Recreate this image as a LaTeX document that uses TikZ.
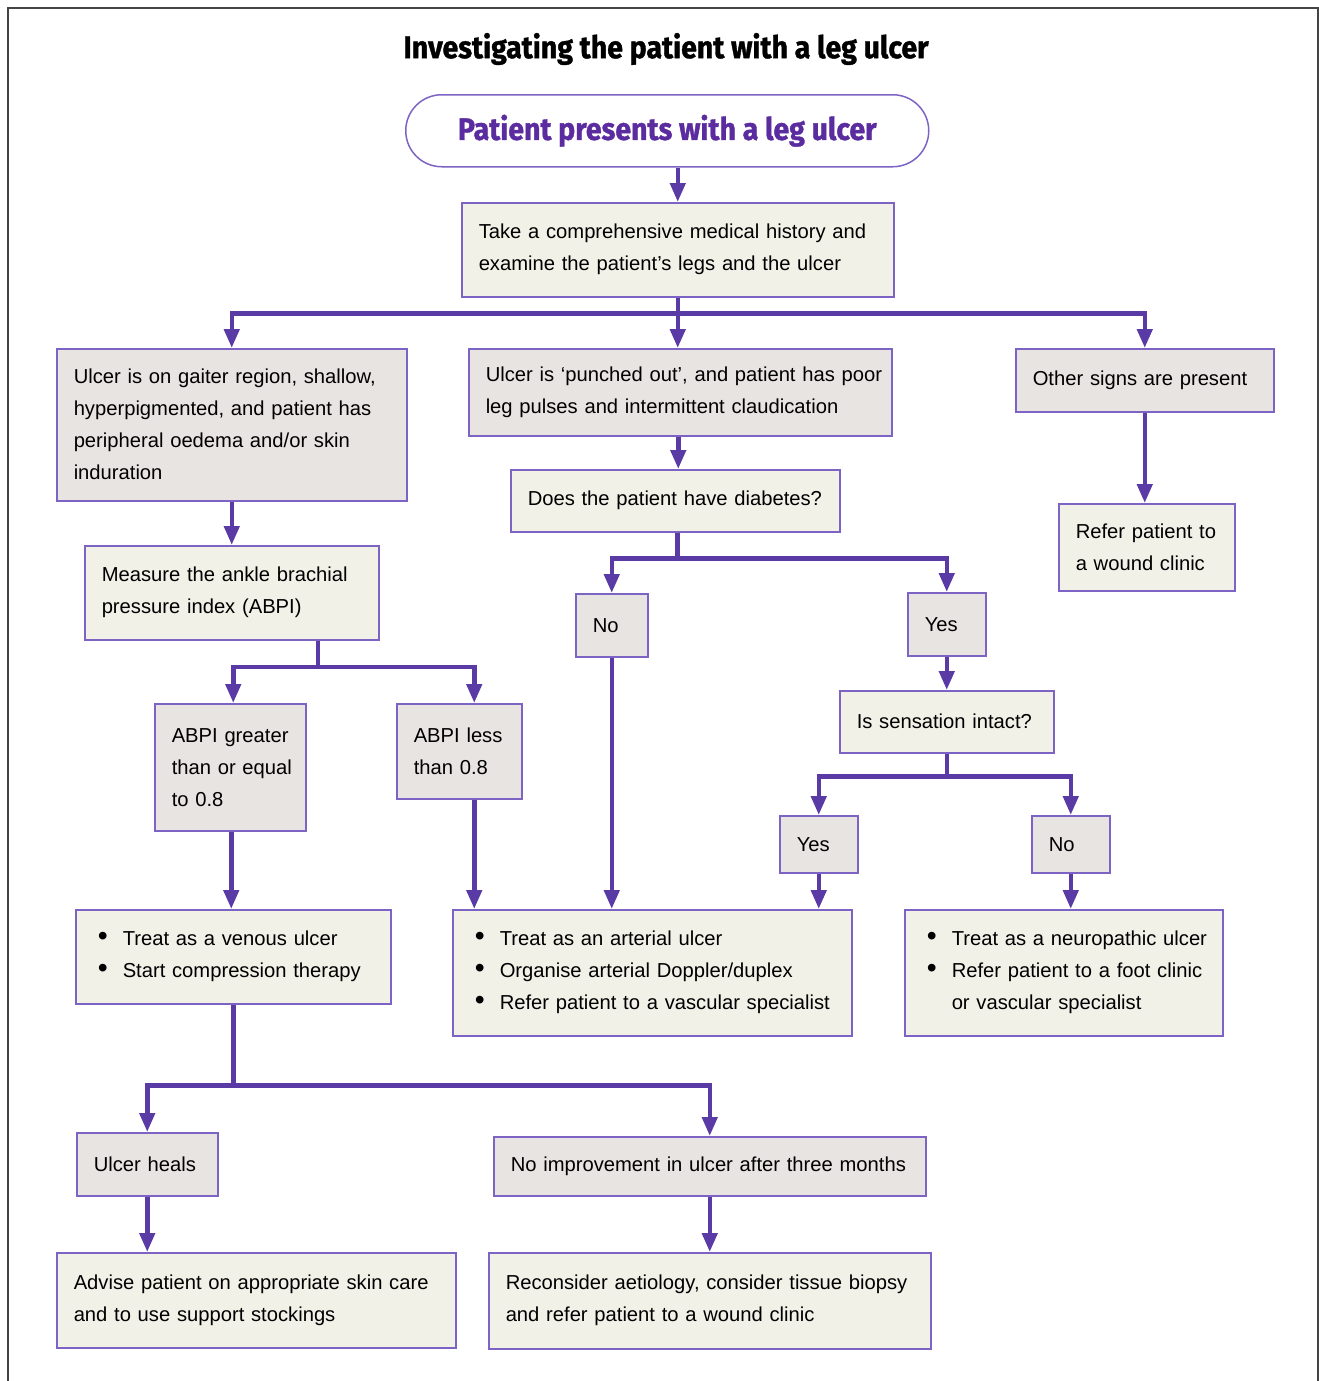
\documentclass[tikz,border=0pt]{standalone}
\usepackage{fontspec}
\usetikzlibrary{arrows.meta}
\newfontfamily\bodyfont{Liberation Sans}
\newfontfamily\titlefont[FakeStretch=0.92,FakeBold=1.2]{Fira Sans}
\definecolor{cream}{HTML}{F2F1E8}
\definecolor{greyfill}{HTML}{E8E4E1}
\definecolor{bordercol}{HTML}{7D63C3}
\definecolor{arrowcol}{HTML}{5A3BA6}
\definecolor{starttext}{HTML}{5B2C9F}
\definecolor{framecol}{HTML}{444444}
\newcommand\LL[1]{\mbox{#1}}
\newcommand\BL[1]{\mbox{\makebox[25pt][l]{\scalebox{1.4}{\textbullet}}#1}}
\begin{document}
\begin{tikzpicture}[x=1pt,y=-1pt,
  box/.style={draw=bordercol, line width=1.5pt, anchor=north west, inner xsep=17pt, inner ysep=0pt,
     align=left, font=\bodyfont\fontsize{20.2}{32}\selectfont},
  cbox/.style={box, fill=cream},
  gbox/.style={box, fill=greyfill},
  bbox/.style={cbox, inner xsep=22pt},
  arr/.style={draw=arrowcol, line width=4.5pt, -{Triangle[length=19pt,width=15pt]}},
  ln/.style={draw=arrowcol, line width=4.5pt},
  ttl/.style={font=\titlefont\bfseries\fontsize{31}{36}\selectfont}
]
\useasboundingbox (0,0) rectangle (1319,1381);
\draw[framecol, line width=2pt] (8,1381) -- (8,8) -- (1318,8) -- (1318,1381);

\node[ttl, anchor=center] (title) at (666,49) {Investigating the patient with a leg ulcer};
\node[ttl, draw=bordercol, line width=1.5pt, rounded corners=36pt, anchor=north west, minimum width=523pt, minimum height=72pt, inner sep=0pt,
  text=starttext] (start) at (405,94) {Patient presents with a leg ulcer};

\node[cbox, minimum width=432pt, text width=398pt, minimum height=94pt] (take) at (461,202)
  {\LL{Take a comprehensive medical history and}\\\LL{examine the patient’s legs and the ulcer}};

\node[gbox, minimum width=350pt, text width=316pt, minimum height=152pt] (venoussign) at (56,348)
  {\LL{Ulcer is on gaiter region, shallow,}\\\LL{hyperpigmented, and patient has}\\\LL{peripheral oedema and/or skin}\\\LL{induration}};
\node[gbox, minimum width=423pt, text width=389pt, minimum height=87pt] (arterialsign) at (468,348)
  {\LL{Ulcer is ‘punched out’, and patient has poor}\\\LL{leg pulses and intermittent claudication}};
\node[gbox, minimum width=258pt, text width=224pt, minimum height=63pt] (other) at (1015,348)
  {\LL{Other signs are present}};
\node[cbox, minimum width=176pt, text width=142pt, minimum height=87pt] (refer) at (1058,503)
  {\LL{Refer patient to}\\\LL{a wound clinic}};

\node[cbox, minimum width=294pt, text width=260pt, minimum height=94pt] (measure) at (84,545)
  {\LL{Measure the ankle brachial}\\\LL{pressure index (ABPI)}};
\node[gbox, minimum width=151pt, text width=117pt, minimum height=127pt] (ge) at (154,703)
  {\LL{ABPI greater}\\\LL{than or equal}\\\LL{to 0.8}};
\node[gbox, minimum width=125pt, text width=91pt, minimum height=95pt] (lt) at (396,703)
  {\LL{ABPI less}\\\LL{than 0.8}};

\node[cbox, minimum width=329pt, text width=295pt, minimum height=62pt] (diab) at (510,469)
  {\LL{Does the patient have diabetes?}};
\node[gbox, minimum width=72pt, text width=38pt, minimum height=63pt] (no) at (575,593) {\LL{No}};
\node[gbox, minimum width=78pt, text width=44pt, minimum height=63pt] (yes) at (907,592) {\LL{Yes}};
\node[cbox, minimum width=214pt, text width=180pt, minimum height=62pt] (sens) at (839,690)
  {\LL{Is sensation intact?}};
\node[gbox, minimum width=78pt, text width=44pt, minimum height=57pt] (yestwo) at (779,815) {\LL{Yes}};
\node[gbox, minimum width=78pt, text width=44pt, minimum height=57pt] (notwo) at (1031,815) {\LL{No}};

\node[bbox, minimum width=315pt, text width=271pt, minimum height=94pt] (venous) at (75,909)
  {\BL{Treat as a venous ulcer}\\\BL{Start compression therapy}};
\node[bbox, minimum width=399pt, text width=355pt, minimum height=126pt] (arterial) at (452,909)
  {\BL{Treat as an arterial ulcer}\\\BL{Organise arterial Doppler/duplex}\\\BL{Refer patient to a vascular specialist}};
\node[bbox, minimum width=318pt, text width=274pt, minimum height=126pt] (neuro) at (904,909)
  {\BL{Treat as a neuropathic ulcer}\\\BL{Refer patient to a foot clinic}\\\LL{\hspace*{25pt}or vascular specialist}};

\node[gbox, minimum width=141pt, text width=107pt, minimum height=63pt] (heals) at (76,1132) {\LL{Ulcer heals}};
\node[gbox, minimum width=432pt, text width=398pt, minimum height=59pt] (noimp) at (493,1136)
  {\LL{No improvement in ulcer after three months}};
\node[cbox, minimum width=399pt, text width=365pt, minimum height=95pt] (advise) at (56,1252)
  {\LL{Advise patient on appropriate skin care}\\\LL{and to use support stockings}};
\node[cbox, minimum width=442pt, text width=408pt, minimum height=96pt] (recon) at (488,1252)
  {\LL{Reconsider aetiology, consider tissue biopsy}\\\LL{and refer patient to a wound clinic}};

% connectors
\draw[arr] (take.north |- start.south) -- (take.north);
\draw[arr] (take.south) -- ++(0,16) -| (venoussign.north);
\draw[arr] (take.south) -- ++(0,16) -| (other.north);
\draw[arr] (take.south) -- (take.south |- arterialsign.north);
\draw[arr] (other.south) -- (other.south |- refer.north);
\draw[arr] (venoussign.south) -- (venoussign.south |- measure.north);
\coordinate (msplit) at (318,667);
\draw[ln] (msplit |- measure.south) -- (msplit);
\draw[arr] (msplit) -| ([xshift=3pt]ge.north);
\draw[arr] (msplit) -| ([xshift=15pt]lt.north);
\draw[arr] ([xshift=-2pt]arterialsign.south) -- ([xshift=-2pt]arterialsign.south |- diab.north);
\draw[arr] ([xshift=2pt]diab.south) -- ++(0,26) -| (no.north);
\draw[arr] ([xshift=2pt]diab.south) -- ++(0,26) -| (yes.north);
\draw[arr] (yes.south) -- (yes.south |- sens.north);
\draw[arr] (sens.south) -- ++(0,23) -| (yestwo.north);
\draw[arr] (sens.south) -- ++(0,23) -| (notwo.north);
\draw[arr] ([xshift=1pt]ge.south) -- ([xshift=1pt]ge.south |- venous.north);
\draw[arr] ([xshift=15pt]lt.south) -- ([xshift=15pt]lt.south |- arterial.north);
\draw[arr] (no.south) -- (no.south |- arterial.north);
\draw[arr] (yestwo.south) -- (yestwo.south |- arterial.north);
\draw[arr] (notwo.south) -- (notwo.south |- neuro.north);
\draw[arr] (venous.south) -- ++(0,81) -| (heals.north);
\draw[arr] (venous.south) -- ++(0,81) -| (noimp.north);
\draw[arr] (heals.south) -- (heals.south |- advise.north);
\draw[arr] (noimp.south) -- (noimp.south |- recon.north);
\end{tikzpicture}
\end{document}
